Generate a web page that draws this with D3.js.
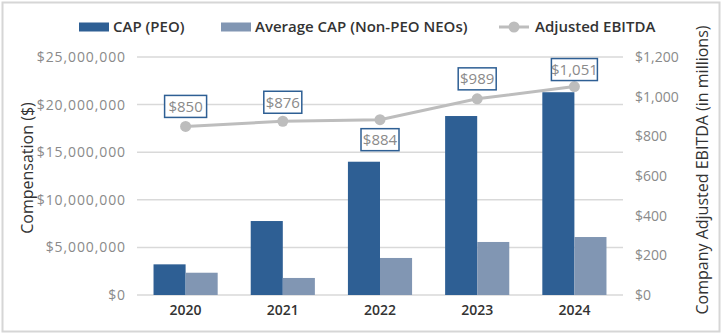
<!DOCTYPE html>
<html><head><meta charset="utf-8">
<script src="https://cdn.jsdelivr.net/npm/d3@7"></script>
<style>body{margin:0;background:#fff}svg{display:block;font-family:"Open Sans",sans-serif}</style>
</head><body><svg id="c" width="722" height="334"></svg>
<script>
const years = ["2020","2021","2022","2023","2024"];
const capPEO = [3220000, 7770000, 14000000, 18800000, 21300000];
const capNEO = [2340000, 1790000, 3890000, 5570000, 6090000];
const ebitda = [850, 876, 884, 989, 1051];
const ebitdaLabels = ["$850","$876","$884","$989","$1,051"];
const leftTicks = [0,5000000,10000000,15000000,20000000,25000000];
const rightTicks = [0,200,400,600,800,1000,1200];
const seriesNames = ["CAP (PEO)","Average CAP (Non-PEO NEOs)","Adjusted EBITDA"];

const C_PEO="#2e5f94", C_NEO="#8196b3", C_LINE="#bdbdbd", C_GRID="#d9d9d9";
const svg=d3.select("#c");
svg.append("rect").attr("x",2.5).attr("y",2.5).attr("width",717).attr("height",329)
  .attr("fill","none").attr("stroke","#d6d6d6").attr("stroke-width",2);

const L=137,R=623,T=57,B=295;
const x=d3.scaleBand().domain(years).range([L,R]).paddingInner(0.34).paddingOuter(0.17);
const x1=d3.scaleBand().domain([0,1]).range([0,x.bandwidth()]);
const y=d3.scaleLinear().domain([0,25000000]).range([B,T]);
const y2=d3.scaleLinear().domain([0,1200]).range([B,T]);

// grid
svg.append("g").selectAll("line").data(leftTicks).join("line")
  .attr("x1",L).attr("x2",R).attr("y1",d=>y(d)).attr("y2",d=>y(d))
  .attr("stroke",C_GRID).attr("stroke-width",1.5);

// left axis
const ya=svg.append("g").attr("transform",`translate(${L-11},0)`)
  .call(d3.axisLeft(y).tickValues(leftTicks).tickSize(0).tickPadding(0).tickFormat(d=>"$"+d3.format(",")(d)));
ya.select(".domain").remove();
ya.selectAll("text").attr("fill","#8a8a8a").style("font-size","14px").style("letter-spacing","0.9px").style("font-family","Open Sans");

const yb=svg.append("g").attr("transform",`translate(${R+12},0)`)
  .call(d3.axisRight(y2).tickValues(rightTicks).tickSize(0).tickPadding(0).tickFormat(d=>"$"+d3.format(",")(d)));
yb.select(".domain").remove();
yb.selectAll("text").attr("fill","#8a8a8a").style("font-size","14px").style("font-family","Open Sans");

const xa=svg.append("g").attr("transform",`translate(0,${B})`)
  .call(d3.axisBottom(x).tickSize(0).tickPadding(10));
xa.select(".domain").remove();
xa.selectAll("text").attr("fill","#333").style("font-size","14px").style("font-weight","600").style("font-family","Open Sans");

// bars
const g=svg.append("g");
g.selectAll(".p").data(years).join("rect").attr("x",d=>x(d)+x1(0)).attr("width",x1.bandwidth())
  .attr("y",(d,i)=>y(capPEO[i])).attr("height",(d,i)=>B-y(capPEO[i])).attr("fill",C_PEO);
g.selectAll(".n").data(years).join("rect").attr("x",d=>x(d)+x1(1)).attr("width",x1.bandwidth())
  .attr("y",(d,i)=>y(capNEO[i])).attr("height",(d,i)=>B-y(capNEO[i])).attr("fill",C_NEO);

// line
const cx=d=>x(d)+x.bandwidth()/2;
svg.append("path").datum(years).attr("fill","none").attr("stroke",C_LINE).attr("stroke-width",3)
  .attr("d",d3.line().x(cx).y((d,i)=>y2(ebitda[i])));
svg.selectAll(".pt").data(years).join("circle").attr("cx",cx).attr("cy",(d,i)=>y2(ebitda[i]))
  .attr("r",5.5).attr("fill",C_LINE);

// labels
const offs=[-20,-19,20,-20,-17];
const bw=[42,38,38,38,46];
const lab=svg.selectAll(".lab").data(years).join("g")
  .attr("transform",(d,i)=>`translate(${cx(d)},${y2(ebitda[i])+offs[i]})`);
lab.append("rect").attr("x",(d,i)=>-bw[i]/2).attr("y",-11).attr("width",(d,i)=>bw[i]).attr("height",22)
  .attr("fill","#fff").attr("stroke",C_PEO).attr("stroke-width",1.5);
lab.append("text").attr("text-anchor","middle").attr("dy","0.35em").attr("fill","#8a8a8a")
  .style("font-size","15px").text((d,i)=>ebitdaLabels[i]);

// axis titles
svg.append("text").attr("transform","translate(33,168) rotate(-90)").attr("text-anchor","middle")
  .attr("fill","#333").style("font-size","16px").text("Compensation ($)");
svg.append("text").attr("transform","translate(708,170) rotate(-90)").attr("text-anchor","middle")
  .attr("fill","#333").style("font-size","16px").text("Company Adjusted EBITDA (in millions)");

// legend
const lg=svg.append("g").attr("transform","translate(0,27)");
lg.append("rect").attr("x",79).attr("y",-4.5).attr("width",30).attr("height",9).attr("fill",C_PEO);
lg.append("text").attr("x",113).attr("dy","0.35em").attr("fill","#333").style("font-size","15px").style("font-weight","600").text(seriesNames[0]);
lg.append("rect").attr("x",221).attr("y",-4.5).attr("width",30).attr("height",9).attr("fill",C_NEO);
lg.append("text").attr("x",255).attr("dy","0.35em").attr("fill","#333").style("font-size","15px").style("font-weight","600").text(seriesNames[1]);
lg.append("line").attr("x1",499).attr("x2",529).attr("stroke",C_LINE).attr("stroke-width",3);
lg.append("circle").attr("cx",514).attr("r",5.5).attr("fill",C_LINE);
lg.append("text").attr("x",535).attr("dy","0.35em").attr("fill","#333").style("font-size","15px").style("font-weight","600").text(seriesNames[2]);
</script></body></html>
